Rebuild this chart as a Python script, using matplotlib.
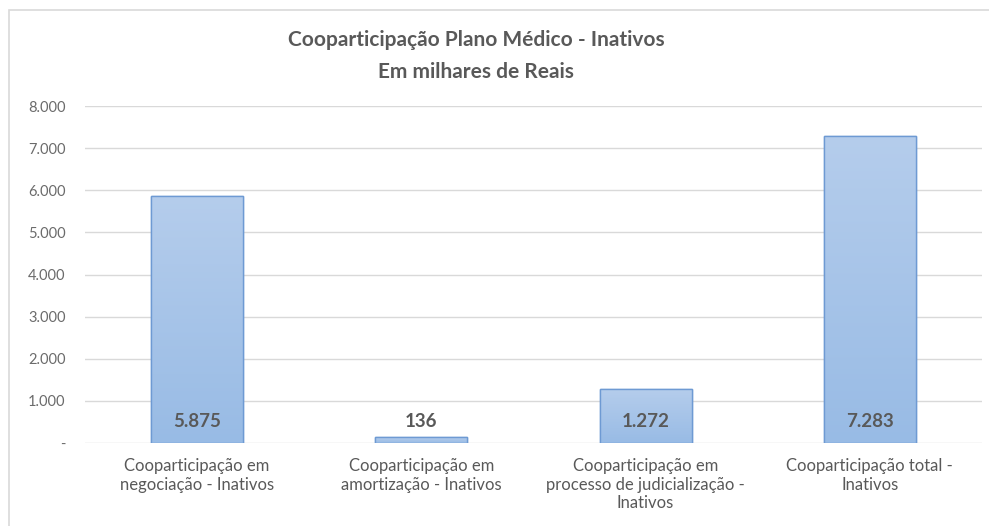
import numpy as np
import matplotlib
matplotlib.use("Agg")
import matplotlib.pyplot as plt
from matplotlib.patches import Rectangle
from matplotlib.ticker import FuncFormatter

categories = [
    "Cooparticipação em\nnegociação - Inativos",
    "Cooparticipação em\namortização - Inativos",
    "Cooparticipação em\nprocesso de judicialização -\nInativos",
    "Cooparticipação total -\nInativos",
]
values = [5875, 136, 1272, 7283]
yticks = [0, 1000, 2000, 3000, 4000, 5000, 6000, 7000, 8000]

title = "Cooparticipação Plano Médico - Inativos\nEm milhares de Reais"

plt.rcParams['font.family'] = ['Lato', 'DejaVu Sans']
txt = "#595959"


def fmt_thousands(v, pos=None):
    if v == 0:
        return "-"
    return f"{v:,.0f}".replace(",", ".")


fig = plt.figure(figsize=(9.89, 5.26), dpi=100)
fig.patches.append(Rectangle((9 / 989, -0.1), 1.1, 1 - 10 / 526 + 0.1,
                             transform=fig.transFigure, fill=False,
                             edgecolor="#d9d9d9", linewidth=1.2))

ax = fig.add_axes([85 / 989, 1 - 443 / 526, 897 / 989, 337 / 526])
x = np.arange(len(categories))
bars = ax.bar(x, values, width=0.41, color="#a8c4e8", edgecolor="#6e9ad3",
              linewidth=1.0, zorder=3)

# soft vertical gradient, a bit lighter at the top
grad = np.linspace(0, 1, 256).reshape(-1, 1)
cmap = matplotlib.colors.LinearSegmentedColormap.from_list("g", ["#98bbe5", "#b5cdec"])
for b in bars:
    x0, y0 = b.get_x(), b.get_y()
    w, h = b.get_width(), b.get_height()
    im = ax.imshow(grad, extent=[x0, x0 + w, y0, y0 + h], origin="lower",
                   cmap=cmap, aspect="auto", zorder=3.5, interpolation="bicubic")
    im.set_clip_path(b)
    ax.add_patch(Rectangle((x0, y0), w, h, fill=False, edgecolor="#6e9ad3",
                           linewidth=1.0, zorder=4))

for xi, v in zip(x, values):
    ax.annotate(fmt_thousands(v), (xi, 0), xytext=(0, 15.5), textcoords="offset points",
                ha="center", va="center", fontsize=13.5, fontweight="bold",
                color=txt, zorder=5)

ax.set_xlim(-0.5, len(categories) - 0.5)
ax.set_ylim(0, 8000)
ax.set_yticks(yticks)
ax.yaxis.set_major_formatter(FuncFormatter(fmt_thousands))
ax.set_xticks(x)
ax.set_xticklabels(categories, fontsize=12, color=txt, linespacing=1.2)
ax.tick_params(axis="y", length=0, pad=14, labelsize=10.5, labelcolor="#6b6b6b")
ax.tick_params(axis="x", length=0, pad=11)
ax.grid(axis="y", color="#d9d9d9", linewidth=1.0, zorder=0)
for s in ax.spines.values():
    s.set_visible(False)
ax.set_axisbelow(True)

fig.text(476 / 989, 1 - 56 / 526, title, ha="center", va="center",
         fontsize=15, fontweight="bold", color=txt, linespacing=1.75)

fig.savefig("out.png", dpi=100)
